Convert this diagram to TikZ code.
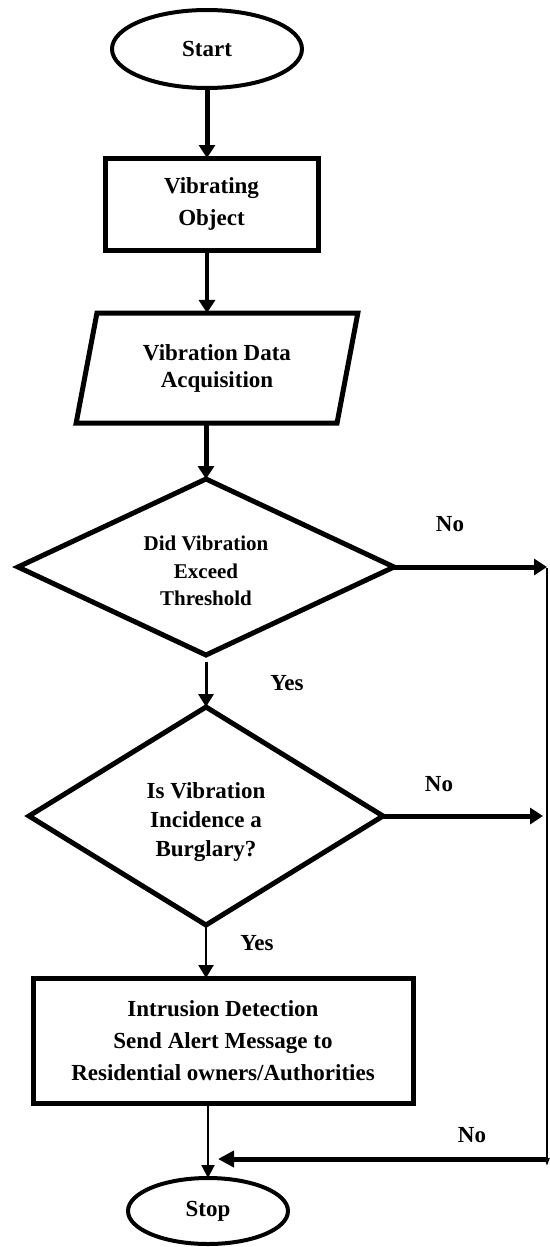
\documentclass[tikz,border=0pt]{standalone}
\usepackage{fontspec}
\setmainfont{Liberation Serif}
\usetikzlibrary{shapes.geometric,arrows.meta,calc}
\begin{document}
\begin{tikzpicture}[x=1pt,y=-1pt,
  every node/.style={inner sep=0pt, outer sep=0pt, align=center},
  term/.style={draw, ellipse, line width=4pt, font=\bfseries\fontsize{23}{28}\selectfont},
  procbox/.style={draw, rectangle, line width=5pt, font=\bfseries\fontsize{23}{32}\selectfont},
  iobox/.style={draw, trapezium, trapezium left angle=75, trapezium right angle=105, trapezium stretches=true, line width=5pt, font=\bfseries\fontsize{23}{27}\selectfont},
  decisionA/.style={draw, diamond, line width=5pt, font=\bfseries\fontsize{21}{27.5}\selectfont},
  decisionB/.style={draw, diamond, line width=5pt, font=\bfseries\fontsize{23}{29}\selectfont},
  lab/.style={font=\bfseries\fontsize{23}{28}\selectfont},
  bigtip/.style={-{Triangle[length=13pt,width=16pt]}},
  midtip/.style={-{Triangle[length=13pt,width=15pt]}},
  thintip/.style={-{Triangle[length=13pt,width=13pt]}}
]
\useasboundingbox (0,0) rectangle (549,1247);

\node[term, minimum width=190pt, minimum height=78pt] (start) at (207,49) {Start};
\node[procbox, minimum width=213pt, minimum height=92pt] (obj) at (211.5,204) {Vibrating\\Object};
\node[iobox, minimum width=282pt, minimum height=110pt] (acq) at (217,368) {Vibration Data\\Acquisition};
\node[decisionA, aspect=2.14, minimum width=376pt, minimum height=176pt] (d1) at (206,567)
  {\raisebox{-11pt}[0pt][0pt]{\begin{tabular}{@{}c@{}}Did Vibration\\Exceed\\Threshold\end{tabular}}};
\node[decisionB, aspect=1.62, minimum width=354pt, minimum height=218pt] (d2) at (206,816)
  {\raisebox{-12pt}[0pt][0pt]{\begin{tabular}{@{}c@{}}Is Vibration\\Incidence a\\Burglary?\end{tabular}}};
\node[procbox, minimum width=380pt, minimum height=125pt] (alert) at (223,1040.5)
  {Intrusion Detection\\Send Alert Message to\\Residential owners/Authorities};
\node[term, minimum width=160pt, minimum height=66pt] (stop) at (208,1211) {Stop};

\coordinate (r1) at (547,568);
\coordinate (r2) at (547,1166);
\coordinate (m) at (547,1159);

% main flow
\draw[line width=5pt, bigtip] (start.south) -- (start.south |- obj.north);
\draw[line width=4pt, bigtip] (start.south |- obj.south) -- (start.south |- acq.north);
\draw[line width=5pt, bigtip] (d1.north |- acq.south) -- (d1.north);
\draw[line width=3pt, midtip, shorten <=7pt] (d1.south) -- (d2.north);
\draw[line width=2.5pt, midtip] (d2.south) -- (d2.south |- alert.north);
\draw[line width=2pt, thintip] (stop.north |- alert.south) -- (stop.north);

% No branches
\draw[line width=5pt, bigtip] (d1.east) -- (d1.east -| r1);
\draw[line width=5pt, bigtip] (d2.east) -- ($(d2.east -| r1)+(-4,0)$);
\draw[line width=2pt, -{Triangle[length=8pt,width=5pt]}] (r1) -- (r2);
\draw[line width=5pt, -{Triangle[length=16pt,width=16pt]}] (m) -- ($(m -| stop.north)+(10,0)$);

% labels
\node[lab] at (450,524) {No};
\node[lab] at (287,683) {Yes};
\node[lab] at (439,784) {No};
\node[lab] at (257,943) {Yes};
\node[lab] at (472,1135) {No};
\end{tikzpicture}
\end{document}
